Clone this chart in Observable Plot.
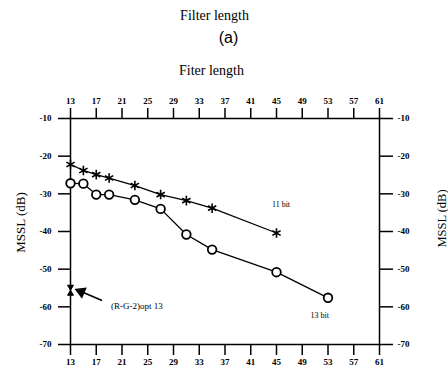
<!DOCTYPE html>
<html>
<head>
<meta charset="utf-8">
<script src="https://cdn.jsdelivr.net/npm/d3@7"></script>
<script src="https://cdn.jsdelivr.net/npm/@observablehq/plot@0.6"></script>
<style>
  html, body { margin: 0; padding: 0; background: #fff; }
  #chart { width: 448px; height: 371px; }
</style>
</head>
<body>
<div id="chart"></div>
<script>
// ---- data ----
const xTicks = [13, 17, 21, 25, 29, 33, 37, 41, 45, 49, 53, 57, 61];
const yTicks = [-10, -20, -30, -40, -50, -60, -70];

const len11 = [13, 15, 17, 19, 23, 27, 31, 35, 45];
const mssl11 = [-22.2, -23.8, -24.9, -25.8, -27.8, -30.2, -31.8, -33.8, -40.4];

const len13 = [13, 15, 17, 19, 23, 27, 31, 35, 45, 53];
const mssl13 = [-27.2, -27.3, -30.2, -30.2, -31.6, -34.0, -40.8, -44.8, -50.8, -57.6];

const optLen = [13];
const optMssl = [-55.6];

// annotation positions (data coordinates)
const labelText = ["11 bit", "13 bit", "(R-G-2)opt 13"];
const labelX = [45.7, 51.7, 19.3];
const labelY = [-32.8, -62.3, -59.8];
const labelAnchor = ["middle", "middle", "start"];

const arrowFrom = [17.9, -58.3];
const arrowTo = [14.9, -56.1];

const s11 = len11.map((x, i) => ({x, y: mssl11[i]}));
const s13 = len13.map((x, i) => ({x, y: mssl13[i]}));
const sOpt = optLen.map((x, i) => ({x, y: optMssl[i]}));
const labels = labelText.map((t, i) => ({t, x: labelX[i], y: labelY[i], a: labelAnchor[i]}));

const hourglass = {
  draw(context, size) {
    const r = Math.sqrt(size / Math.PI);
    const w = r * 0.6, h = r;
    context.moveTo(-w, -h);
    context.lineTo(w, -h);
    context.lineTo(-w, h);
    context.lineTo(w, h);
    context.closePath();
  }
};

const serif = "'Liberation Serif', 'Times New Roman', serif";
const tickStyle = {fontSize: 9, fontWeight: "bold", fontFamily: serif};

const plot = Plot.plot({
  width: 448,
  height: 371,
  marginLeft: 70,
  marginRight: 69,
  marginTop: 118,
  marginBottom: 27,
  style: {fontFamily: serif, background: "#fff", color: "#000"},
  x: {domain: [13, 61]},
  y: {domain: [-70, -10]},
  marks: [
    Plot.frame({stroke: "#000", strokeWidth: 1.5}),
    Plot.axisX({anchor: "bottom", ticks: xTicks, tickSize: 11, tickPadding: 3, label: null, strokeWidth: 1.5, ...tickStyle}),
    Plot.axisX({anchor: "top", ticks: xTicks, tickSize: 11, tickPadding: 4, label: null, strokeWidth: 1.5, ...tickStyle}),
    Plot.axisY({anchor: "left", ticks: yTicks, tickSize: 12, tickPadding: 7, label: null, tickFormat: d => String(d), strokeWidth: 1.5, ...tickStyle}),
    Plot.axisY({anchor: "right", ticks: yTicks, tickSize: 13, tickPadding: 5, label: null, tickFormat: d => String(d), strokeWidth: 1.5, ...tickStyle}),
    // series lines
    Plot.line(s11, {x: "x", y: "y", stroke: "#000", strokeWidth: 1.3}),
    Plot.line(s13, {x: "x", y: "y", stroke: "#000", strokeWidth: 1.3}),
    Plot.dot(s11, {x: "x", y: "y", symbol: "asterisk", r: 4.5, stroke: "#000", strokeWidth: 1.6}),
    Plot.dot(s13, {x: "x", y: "y", r: 4.3, fill: "#fff", stroke: "#000", strokeWidth: 1.8}),
    Plot.dot(sOpt, {x: "x", y: "y", symbol: hourglass, r: 5, fill: "#000", stroke: "#000", strokeWidth: 1}),
    // arrow
    Plot.link([0], {x1: () => arrowFrom[0], y1: () => arrowFrom[1], x2: () => arrowTo[0], y2: () => arrowTo[1], stroke: "#000", strokeWidth: 1.6}),
    Plot.dot([0], {x: () => arrowTo[0] - 0.25, y: () => arrowTo[1] + 0.1, symbol: "triangle", r: 3.6, rotate: -67, fill: "#000", stroke: "#000"}),
    // labels
    Plot.text(labels.filter(d => d.a === "middle"), {x: "x", y: "y", text: "t", fontSize: 8, fill: "#000", textAnchor: "middle"}),
    Plot.text(labels.filter(d => d.a === "start"), {x: "x", y: "y", text: "t", fontSize: 9, fill: "#000", textAnchor: "start"}),
    // titles
    Plot.text(["Filter length"], {frameAnchor: "top", text: d => d, lineAnchor: "middle", textAnchor: "middle", dy: -103, dx: -10.5, fontSize: 14, fill: "#000"}),
    Plot.text(["(a)"], {frameAnchor: "top", text: d => d, lineAnchor: "middle", textAnchor: "middle", dy: -81, dx: 3.5, fontSize: 16, fill: "#000", fontFamily: "'Liberation Sans', Arial, sans-serif"}),
    Plot.text(["Fiter length"], {frameAnchor: "top", text: d => d, lineAnchor: "middle", textAnchor: "middle", dy: -48, dx: -13.5, fontSize: 14, fill: "#000"}),
    // y axis titles
    Plot.text(["MSSL (dB)"], {frameAnchor: "left", text: d => d, rotate: -90, textAnchor: "middle", lineAnchor: "middle", dx: -50, dy: -9, fontSize: 13, fill: "#000"}),
    Plot.text(["MSSL (dB)"], {frameAnchor: "right", text: d => d, rotate: -90, textAnchor: "middle", lineAnchor: "middle", dx: 62, dy: -13, fontSize: 12.5, fill: "#000"})
  ]
});
document.getElementById("chart").appendChild(plot);
</script>
</body>
</html>
